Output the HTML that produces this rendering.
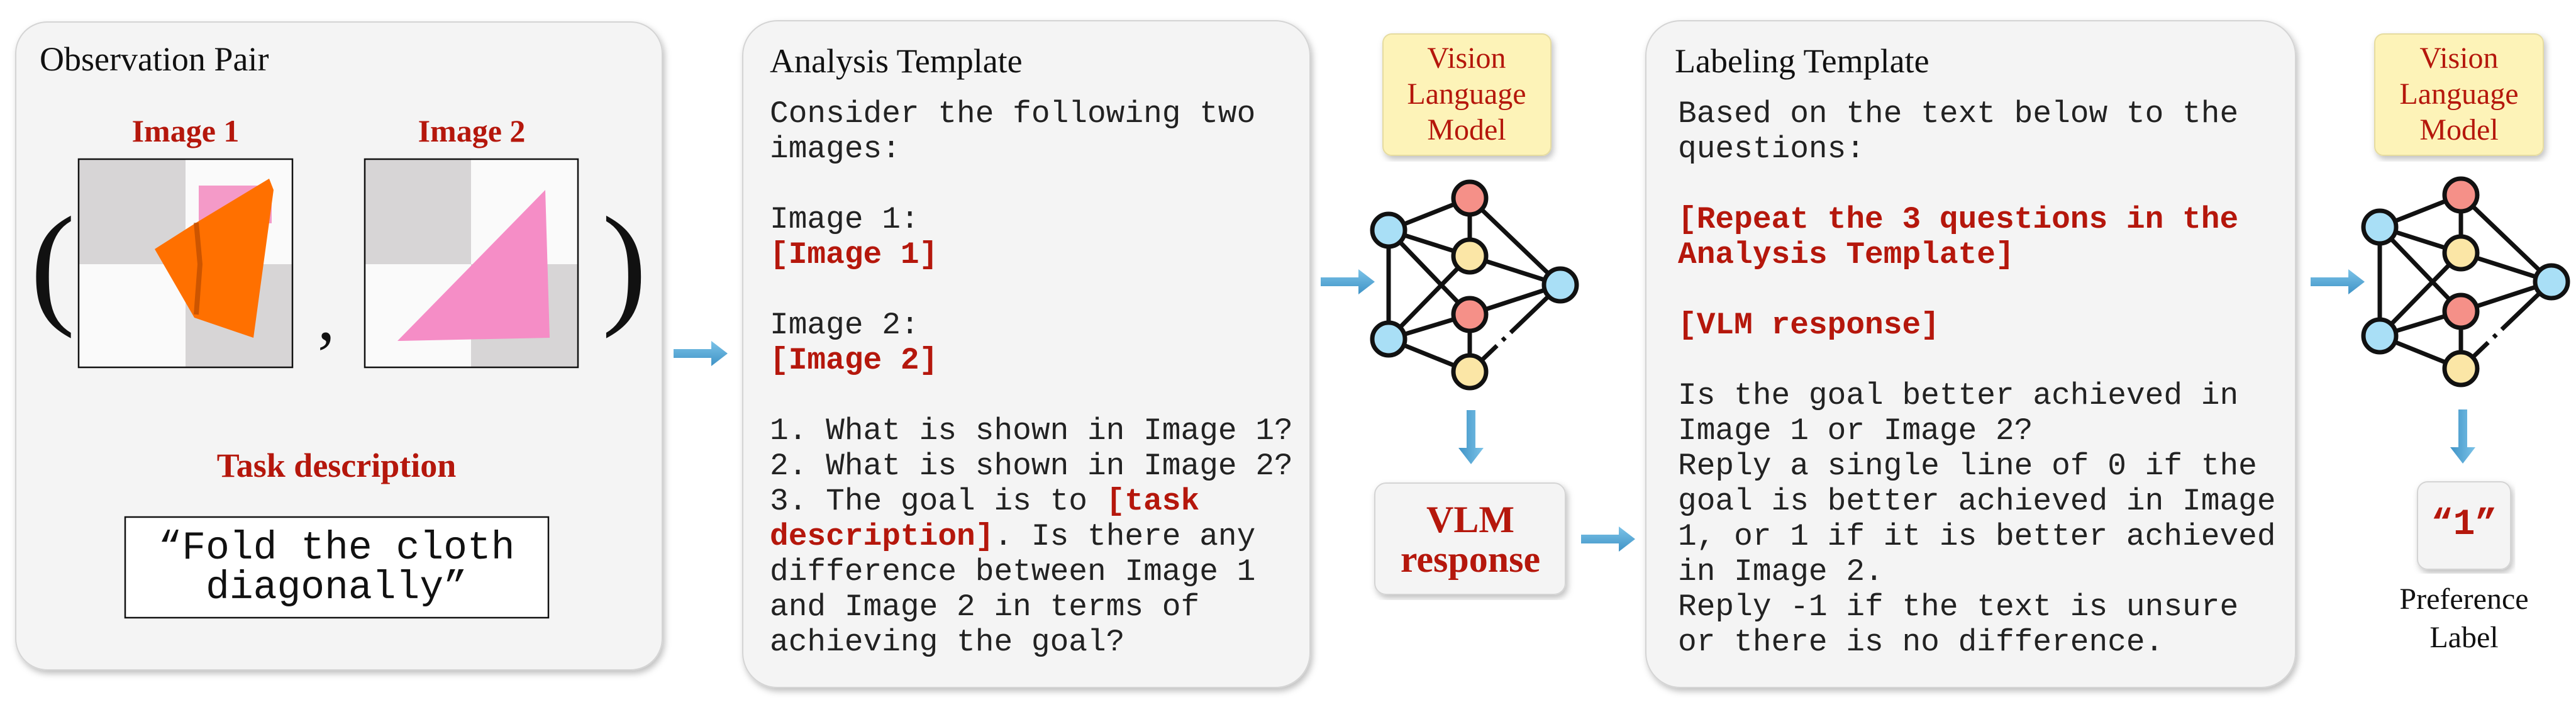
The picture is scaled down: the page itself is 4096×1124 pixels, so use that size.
<!DOCTYPE html>
<html><head><meta charset="utf-8"><style>
html,body{margin:0;padding:0;background:#fff;}
svg{display:block}
.mono{font-family:"Liberation Mono",monospace;font-size:49.5px;fill:#222;}
.r{fill:#b5170c;font-weight:bold;}
.serif{font-family:"Liberation Serif",serif;}
</style></head><body>
<svg width="4096" height="1124" viewBox="0 0 4096 1124" xmlns="http://www.w3.org/2000/svg">
<defs>
<filter id="sh" x="-5%" y="-5%" width="110%" height="110%"><feDropShadow dx="3" dy="5" stdDeviation="5" flood-color="#000" flood-opacity="0.25"/></filter>
<linearGradient id="ag" x1="0" y1="0" x2="0" y2="1"><stop offset="0" stop-color="#7cc3e8"/><stop offset="1" stop-color="#3f93c6"/></linearGradient>
<g id="arr"><path d="M0,-7 L60,-7 L60,-20 L86,0 L60,20 L60,7 L0,7 Z" fill="url(#ag)"/></g>
<g id="net" stroke="#111" stroke-width="7" fill="none">
<line x1="-129" y1="51" x2="0" y2="0"/><line x1="0" y1="0" x2="0" y2="92"/><line x1="0" y1="0" x2="144" y2="138"/>
<line x1="-129" y1="51" x2="0" y2="92"/><line x1="-129" y1="51" x2="0" y2="185"/><line x1="-129" y1="51" x2="-129" y2="224"/>
<line x1="0" y1="92" x2="144" y2="138"/><line x1="0" y1="92" x2="-129" y2="224"/><line x1="0" y1="185" x2="144" y2="138"/>
<line x1="-129" y1="224" x2="0" y2="185"/><line x1="-129" y1="224" x2="0" y2="276"/><line x1="0" y1="185" x2="0" y2="276"/>
<line x1="0" y1="276" x2="144" y2="138" stroke-dasharray="60 12 6 12 200"/>
<circle cx="0" cy="0" r="26" fill="#f59088"/><circle cx="-129" cy="51" r="26" fill="#a9dff6"/>
<circle cx="0" cy="92" r="26" fill="#fbe6a6"/><circle cx="144" cy="138" r="26" fill="#a9dff6"/>
<circle cx="0" cy="185" r="26" fill="#f59088"/><circle cx="-129" cy="224" r="26" fill="#a9dff6"/>
<circle cx="0" cy="276" r="26" fill="#fbe6a6"/>
</g>
</defs>

<!-- Observation pair box -->
<rect x="25" y="35" width="1028" height="1030" rx="50" fill="#f4f4f4" stroke="#d4d4d4" stroke-width="2" filter="url(#sh)"/>
<text x="63" y="112" class="serif" font-size="54" fill="#111">Observation Pair</text>
<text x="295" y="225" class="serif" font-size="50" font-weight="bold" fill="#b5170c" text-anchor="middle">Image 1</text>
<text x="750" y="225" class="serif" font-size="50" font-weight="bold" fill="#b5170c" text-anchor="middle">Image 2</text>
<!-- image 1 -->
<rect x="125" y="253" width="340" height="331" fill="#fafafa"/>
<rect x="125" y="253" width="170" height="167" fill="#d7d5d6"/>
<rect x="295" y="420" width="170" height="164" fill="#d7d5d6"/>
<rect x="316" y="295" width="116" height="60" fill="#f49ac8"/>
<polygon points="246,396 312,354 428,284 435,302 403,537 309,505" fill="#ff7000"/>
<polyline points="312,354 318,420 312,500" stroke="#b84a00" stroke-width="8" fill="none" opacity="0.7"/>
<rect x="125" y="253" width="340" height="331" fill="none" stroke="#111" stroke-width="2.5"/>
<!-- image 2 -->
<rect x="580" y="253" width="339" height="331" fill="#fafafa"/>
<rect x="580" y="253" width="169" height="167" fill="#d7d5d6"/>
<rect x="749" y="420" width="170" height="164" fill="#d7d5d6"/>
<polygon points="632,542 867,302 874,537" fill="#f58dc6"/>
<rect x="580" y="253" width="339" height="331" fill="none" stroke="#111" stroke-width="2.5"/>
<text x="48" y="492" class="serif" font-size="215" fill="#111">(</text>
<text x="957" y="492" class="serif" font-size="215" fill="#111">)</text>
<text x="505" y="540" class="serif" font-size="110" fill="#111">,</text>
<text x="535" y="758" class="serif" font-size="54" font-weight="bold" fill="#b5170c" text-anchor="middle">Task description</text>
<rect x="199" y="822" width="673" height="160" fill="#fff" stroke="#111" stroke-width="2.5"/>
<text x="535" y="888" font-family="Liberation Mono,monospace" font-size="63" fill="#111" text-anchor="middle">“Fold the cloth</text>
<text x="535" y="951" font-family="Liberation Mono,monospace" font-size="63" fill="#111" text-anchor="middle">diagonally”</text>

<!-- arrow into analysis -->
<use href="#arr" x="1071" y="562"/>

<!-- Analysis template -->
<rect x="1181" y="33" width="902" height="1060" rx="55" fill="#f4f4f4" stroke="#d4d4d4" stroke-width="2" filter="url(#sh)"/>
<text x="1224" y="115" class="serif" font-size="54" fill="#111">Analysis Template</text>
<g class="mono" xml:space="preserve">
<text x="1224" y="194">Consider the following two</text>
<text x="1224" y="250">images:</text>
<text x="1224" y="362">Image 1:</text>
<text x="1224" y="418" class="r">[Image 1]</text>
<text x="1224" y="530">Image 2:</text>
<text x="1224" y="586" class="r">[Image 2]</text>
<text x="1224" y="698">1. What is shown in Image 1?</text>
<text x="1224" y="754">2. What is shown in Image 2?</text>
<text x="1224" y="810">3. The goal is to <tspan class="r">[task</tspan></text>
<text x="1224" y="866"><tspan class="r">description]</tspan>. Is there any</text>
<text x="1224" y="922">difference between Image 1</text>
<text x="1224" y="978">and Image 2 in terms of</text>
<text x="1224" y="1034">achieving the goal?</text>
</g>

<!-- VLM 1 -->
<rect x="2199" y="54" width="267" height="193" rx="14" fill="#fdf3b8" stroke="#e6dca0" stroke-width="2" filter="url(#sh)"/>
<g class="serif" font-size="48" fill="#b5170c" text-anchor="middle">
<text x="2332" y="108">Vision</text><text x="2332" y="165">Language</text><text x="2332" y="222">Model</text></g>
<use href="#arr" x="2100" y="448"/>
<use href="#net" x="2337" y="315"/>
<use href="#arr" transform="translate(2339,652) rotate(90)"/>
<rect x="2186" y="768" width="303" height="177" rx="18" fill="#f4f4f4" stroke="#d4d4d4" stroke-width="2" filter="url(#sh)"/>
<g class="serif" font-size="60" font-weight="bold" fill="#b5170c" text-anchor="middle">
<text x="2338" y="846">VLM</text><text x="2338" y="909">response</text></g>
<use href="#arr" x="2514" y="857"/>

<!-- Labeling template -->
<rect x="2617" y="33" width="1033" height="1060" rx="55" fill="#f4f4f4" stroke="#d4d4d4" stroke-width="2" filter="url(#sh)"/>
<text x="2663" y="115" class="serif" font-size="54" fill="#111">Labeling Template</text>
<g class="mono" xml:space="preserve">
<text x="2668" y="194">Based on the text below to the</text>
<text x="2668" y="250">questions:</text>
<text x="2668" y="362" class="r">[Repeat the 3 questions in the</text>
<text x="2668" y="418" class="r">Analysis Template]</text>
<text x="2668" y="530" class="r">[VLM response]</text>
<text x="2668" y="642">Is the goal better achieved in</text>
<text x="2668" y="698">Image 1 or Image 2?</text>
<text x="2668" y="754">Reply a single line of 0 if the</text>
<text x="2668" y="810">goal is better achieved in Image</text>
<text x="2668" y="866">1, or 1 if it is better achieved</text>
<text x="2668" y="922">in Image 2.</text>
<text x="2668" y="978">Reply -1 if the text is unsure</text>
<text x="2668" y="1034">or there is no difference.</text>
</g>

<!-- VLM 2 -->
<rect x="3776" y="54" width="268" height="193" rx="14" fill="#fdf3b8" stroke="#e6dca0" stroke-width="2" filter="url(#sh)"/>
<g class="serif" font-size="48" fill="#b5170c" text-anchor="middle">
<text x="3910" y="108">Vision</text><text x="3910" y="165">Language</text><text x="3910" y="222">Model</text></g>
<use href="#arr" x="3674" y="448"/>
<use href="#net" x="3913" y="310"/>
<use href="#arr" transform="translate(3916,651) rotate(90)"/>
<rect x="3844" y="766" width="148" height="139" rx="16" fill="#f4f4f4" stroke="#d4d4d4" stroke-width="2" filter="url(#sh)"/>
<text x="3918" y="849" font-family="Liberation Mono,monospace" font-size="58" font-weight="bold" fill="#b5170c" text-anchor="middle">“1”</text>
<g class="serif" font-size="48" fill="#111" text-anchor="middle">
<text x="3918" y="968">Preference</text><text x="3918" y="1029">Label</text></g>
</svg>
</body></html>
